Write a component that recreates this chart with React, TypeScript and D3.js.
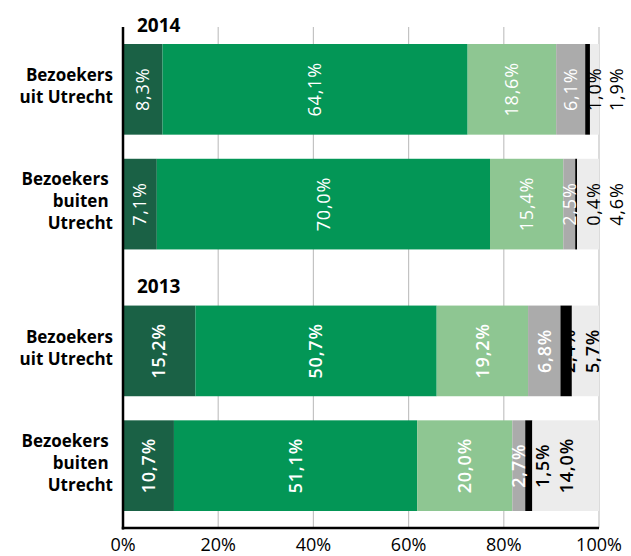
import React, { useEffect, useRef } from 'react'
import * as d3 from 'd3'

// data
const years = ['2014', '2013']
const groups = ['uit', 'buiten']
const groupLines = [['Bezoekers', 'uit Utrecht'], ['Bezoekers\u00a0', 'buiten\u00a0', 'Utrecht']]
const segKeys = ['s0', 's1', 's2', 's3', 's4', 's5']
const uit2014 = [8.3, 64.1, 18.6, 6.1, 1.0, 1.9]
const buiten2014 = [7.1, 70.0, 15.4, 2.5, 0.4, 4.6]
const uit2013 = [15.2, 50.7, 19.2, 6.8, 2.4, 5.7]
const buiten2013 = [10.7, 51.1, 20.0, 2.7, 1.5, 14.0]
const xTicks = [0, 20, 40, 60, 80, 100]

const colors = ['#1a6145', '#039656', '#8ec692', '#ababab', '#000000', '#ececec']
const textColors = ['#fff', '#fff', '#fff', '#fff', '#000', '#000']

export default function App() {
  const ref = useRef<SVGSVGElement>(null)

  useEffect(() => {
    const svg = d3.select(ref.current)
    svg.selectAll('*').remove()
    const font = "'Open Sans', sans-serif"

    const rows = [
      { year: '2014', group: 'uit', vals: uit2014 },
      { year: '2014', group: 'buiten', vals: buiten2014 },
      { year: '2013', group: 'uit', vals: uit2013 },
      { year: '2013', group: 'buiten', vals: buiten2013 },
    ].map(r => {
      const o: any = { year: r.year, group: r.group }
      segKeys.forEach((k, i) => (o[k] = r.vals[i]))
      return o
    })

    const x = d3.scaleLinear().domain([0, 100]).range([123, 599])
    const yOuter = d3.scaleBand().domain(years).range([44, 511]).paddingInner(0.2146)
    const yInner = d3.scaleBand().domain(groups).range([0, yOuter.bandwidth()]).paddingInner(0.21)
    const yTop = (d: any) => (yOuter(d.year) as number) + (yInner(d.group) as number)

    // gridlines
    svg.append('g')
      .selectAll('line')
      .data(xTicks.slice(1))
      .enter()
      .append('line')
      .attr('x1', d => x(d)).attr('x2', d => x(d))
      .attr('y1', 27).attr('y2', 528)
      .attr('stroke', '#c3c3c3')
      .attr('stroke-width', 1.2)

    const stack = d3.stack<any>().keys(segKeys)(rows)

    // bars
    svg.append('g')
      .selectAll('g')
      .data(stack)
      .enter()
      .append('g')
      .attr('fill', (d, i) => colors[i])
      .selectAll('rect')
      .data(d => d)
      .enter()
      .append('rect')
      .attr('x', d => x(d[0]))
      .attr('width', d => x(d[1]) - x(d[0]))
      .attr('y', d => yTop(d.data))
      .attr('height', yInner.bandwidth())

    // value labels, pushed apart when segments are narrow
    const minGap = 24
    rows.forEach((r, ri) => {
      let prev = -Infinity
      const cy = yTop(r) + yInner.bandwidth() / 2
      segKeys.forEach((k, i) => {
        const seg = stack[i][ri]
        let cx = (x(seg[0]) + x(seg[1])) / 2
        cx = Math.min(Math.max(cx, prev + minGap), 617)
        prev = cx
        svg.append('text')
          .attr('transform', `translate(${cx},${cy}) rotate(-90)`)
          .attr('text-anchor', 'middle')
          .attr('dy', '0.35em')
          .attr('font-family', font)
          .attr('font-size', 18)
          .attr('font-weight', r.year === '2013' ? 600 : 'normal')
          .attr('letter-spacing', 0.8)
          .attr('fill', textColors[i])
          .text(r[k].toFixed(1).replace('.', ',') + '%')
      })
    })

    // category labels
    rows.forEach(r => {
      const lines = groupLines[groups.indexOf(r.group)]
      const cy = yTop(r) + yInner.bandwidth() / 2 - 3
      const lh = 22
      lines.forEach((ln, i) => {
        svg.append('text')
          .attr('x', 113)
          .attr('y', cy + (i - (lines.length - 1) / 2) * lh)
          .attr('dy', '0.35em')
          .attr('text-anchor', 'end')
          .attr('font-family', font)
          .attr('font-size', 17)
          .attr('font-weight', 'bold')
          .text(ln)
      })
    })

    // year headers
    years.forEach(yr => {
      svg.append('text')
        .attr('x', 137)
        .attr('y', (yOuter(yr) as number) - 19)
        .attr('dy', '0.35em')
        .attr('font-family', font)
        .attr('font-size', 19)
        .attr('font-weight', 'bold')
        .text(yr)
    })

    // axes
    svg.append('line')
      .attr('x1', x(0)).attr('x2', x(0))
      .attr('y1', 27).attr('y2', 529.5)
      .attr('stroke', '#000').attr('stroke-width', 2.5)
    svg.append('line')
      .attr('x1', x(0) - 1.25).attr('x2', x(100))
      .attr('y1', 528).attr('y2', 528)
      .attr('stroke', '#000').attr('stroke-width', 2.5)

    svg.append('g')
      .selectAll('text')
      .data(xTicks)
      .enter()
      .append('text')
      .attr('x', d => x(d))
      .attr('y', 545)
      .attr('dy', '0.35em')
      .attr('text-anchor', 'middle')
      .attr('font-family', font)
      .attr('font-size', 18)
      .text(d => d + '%')
  }, [])

  return (
    <svg ref={ref} width={631} height={556}
      style={{ position: 'absolute', left: 0, top: 0, background: '#fff' }} />
  )
}
